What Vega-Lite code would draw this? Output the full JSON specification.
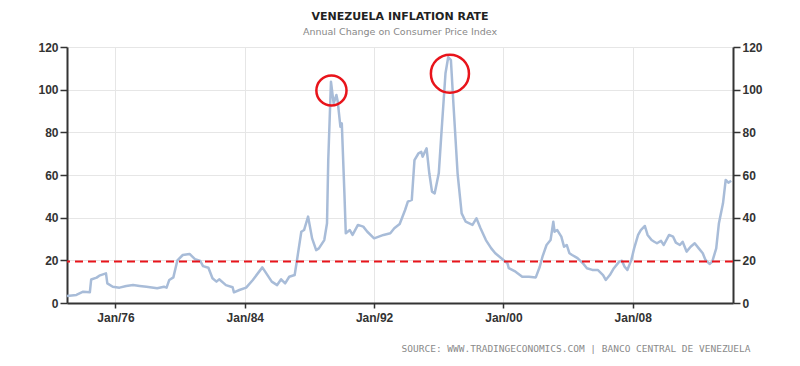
{
  "$schema": "https://vega.github.io/schema/vega-lite/v6.json",
  "width": 666,
  "height": 256,
  "autosize": {"type": "none"},
  "padding": {"left": 67, "top": 47, "right": 67, "bottom": 63},
  "background": "white",
  "title": {
    "text": "VENEZUELA INFLATION RATE",
    "subtitle": "Annual Change on Consumer Price Index",
    "anchor": "middle",
    "font": "DejaVu Sans",
    "fontSize": 11,
    "fontWeight": "bold",
    "color": "#222222",
    "subtitleFont": "DejaVu Sans",
    "subtitleFontSize": 9.5,
    "subtitleColor": "#888888",
    "subtitlePadding": 5,
    "offset": 5
  },
  "config": {
    "view": {"stroke": null},
    "axis": {
      "labelFont": "Liberation Sans",
      "labelFontSize": 12,
      "labelFontWeight": "bold",
      "labelColor": "#333333",
      "domainColor": "#333333",
      "domainWidth": 2,
      "tickColor": "#333333",
      "tickWidth": 1.5,
      "gridColor": "#e6e6e6",
      "gridWidth": 1
    }
  },
  "datasets": {
    "cpi": [
      {"date": "1973-01-01", "rate": 3.3},
      {"date": "1973-08-01", "rate": 3.8},
      {"date": "1974-01-01", "rate": 5.3},
      {"date": "1974-06-01", "rate": 5.0},
      {"date": "1974-07-01", "rate": 11.0},
      {"date": "1974-11-01", "rate": 11.9},
      {"date": "1975-01-01", "rate": 12.8},
      {"date": "1975-06-01", "rate": 13.9},
      {"date": "1975-07-01", "rate": 9.2},
      {"date": "1975-11-01", "rate": 7.6},
      {"date": "1976-04-01", "rate": 7.2},
      {"date": "1976-09-01", "rate": 8.0},
      {"date": "1977-02-01", "rate": 8.4},
      {"date": "1977-07-01", "rate": 8.0},
      {"date": "1977-12-01", "rate": 7.6},
      {"date": "1978-08-01", "rate": 6.9},
      {"date": "1979-01-01", "rate": 7.6},
      {"date": "1979-03-01", "rate": 7.2},
      {"date": "1979-05-01", "rate": 10.8},
      {"date": "1979-08-01", "rate": 12.0},
      {"date": "1979-11-01", "rate": 20.0},
      {"date": "1980-03-01", "rate": 22.5},
      {"date": "1980-08-01", "rate": 23.0},
      {"date": "1980-12-01", "rate": 20.6},
      {"date": "1981-04-01", "rate": 19.7},
      {"date": "1981-06-01", "rate": 17.3},
      {"date": "1981-10-01", "rate": 16.5},
      {"date": "1982-01-01", "rate": 11.6},
      {"date": "1982-04-01", "rate": 10.0},
      {"date": "1982-06-01", "rate": 11.1},
      {"date": "1982-11-01", "rate": 8.4},
      {"date": "1983-04-01", "rate": 7.4},
      {"date": "1983-05-01", "rate": 5.0},
      {"date": "1983-09-01", "rate": 6.1},
      {"date": "1984-02-01", "rate": 7.2},
      {"date": "1984-07-01", "rate": 10.8},
      {"date": "1985-02-01", "rate": 16.7},
      {"date": "1985-05-01", "rate": 13.9},
      {"date": "1985-09-01", "rate": 10.0},
      {"date": "1986-01-01", "rate": 8.4},
      {"date": "1986-04-01", "rate": 11.1},
      {"date": "1986-07-01", "rate": 9.2},
      {"date": "1986-10-01", "rate": 12.3},
      {"date": "1987-02-01", "rate": 13.1},
      {"date": "1987-04-01", "rate": 21.0},
      {"date": "1987-07-01", "rate": 33.4},
      {"date": "1987-09-01", "rate": 34.2},
      {"date": "1987-12-01", "rate": 40.5},
      {"date": "1988-03-01", "rate": 30.3},
      {"date": "1988-06-01", "rate": 24.8},
      {"date": "1988-08-01", "rate": 25.6},
      {"date": "1988-12-01", "rate": 29.5},
      {"date": "1989-02-01", "rate": 37.4},
      {"date": "1989-03-01", "rate": 67.0},
      {"date": "1989-05-01", "rate": 103.7},
      {"date": "1989-07-01", "rate": 93.6},
      {"date": "1989-09-01", "rate": 97.5},
      {"date": "1989-10-01", "rate": 94.4},
      {"date": "1989-12-01", "rate": 82.6},
      {"date": "1990-01-01", "rate": 84.2},
      {"date": "1990-03-01", "rate": 51.4},
      {"date": "1990-04-01", "rate": 32.7},
      {"date": "1990-07-01", "rate": 34.2},
      {"date": "1990-09-01", "rate": 31.9},
      {"date": "1991-01-01", "rate": 36.6},
      {"date": "1991-05-01", "rate": 35.8},
      {"date": "1991-08-01", "rate": 33.4},
      {"date": "1992-01-01", "rate": 30.3},
      {"date": "1992-08-01", "rate": 31.9},
      {"date": "1993-01-01", "rate": 32.7},
      {"date": "1993-04-01", "rate": 35.0},
      {"date": "1993-08-01", "rate": 37.0},
      {"date": "1993-12-01", "rate": 43.6},
      {"date": "1994-02-01", "rate": 47.5},
      {"date": "1994-05-01", "rate": 48.3},
      {"date": "1994-07-01", "rate": 67.0},
      {"date": "1994-10-01", "rate": 70.2},
      {"date": "1994-12-01", "rate": 70.9},
      {"date": "1995-01-01", "rate": 68.6},
      {"date": "1995-04-01", "rate": 72.5},
      {"date": "1995-06-01", "rate": 60.8},
      {"date": "1995-08-01", "rate": 52.2},
      {"date": "1995-10-01", "rate": 51.4},
      {"date": "1996-01-01", "rate": 60.8},
      {"date": "1996-03-01", "rate": 79.6},
      {"date": "1996-06-01", "rate": 107.7},
      {"date": "1996-08-01", "rate": 115.2},
      {"date": "1996-10-01", "rate": 113.9},
      {"date": "1996-12-01", "rate": 92.0},
      {"date": "1997-03-01", "rate": 60.8},
      {"date": "1997-06-01", "rate": 42.0},
      {"date": "1997-09-01", "rate": 38.1},
      {"date": "1998-02-01", "rate": 36.6},
      {"date": "1998-05-01", "rate": 39.7},
      {"date": "1998-08-01", "rate": 35.0},
      {"date": "1998-12-01", "rate": 29.5},
      {"date": "1999-04-01", "rate": 25.6},
      {"date": "1999-07-01", "rate": 23.3},
      {"date": "2000-01-01", "rate": 20.2},
      {"date": "2000-04-01", "rate": 18.6},
      {"date": "2000-05-01", "rate": 16.3},
      {"date": "2000-10-01", "rate": 14.7},
      {"date": "2001-03-01", "rate": 12.3},
      {"date": "2001-08-01", "rate": 12.3},
      {"date": "2002-01-01", "rate": 12.0},
      {"date": "2002-04-01", "rate": 17.0},
      {"date": "2002-06-01", "rate": 21.7},
      {"date": "2002-09-01", "rate": 27.2},
      {"date": "2002-12-01", "rate": 29.5},
      {"date": "2003-02-01", "rate": 38.1},
      {"date": "2003-03-01", "rate": 33.4},
      {"date": "2003-05-01", "rate": 34.2},
      {"date": "2003-08-01", "rate": 31.1},
      {"date": "2003-10-01", "rate": 26.4},
      {"date": "2003-12-01", "rate": 27.2},
      {"date": "2004-02-01", "rate": 23.3},
      {"date": "2004-04-01", "rate": 22.5},
      {"date": "2004-08-01", "rate": 21.0},
      {"date": "2004-12-01", "rate": 18.6},
      {"date": "2005-03-01", "rate": 16.3},
      {"date": "2005-07-01", "rate": 15.5},
      {"date": "2005-11-01", "rate": 15.5},
      {"date": "2006-03-01", "rate": 13.1},
      {"date": "2006-05-01", "rate": 10.8},
      {"date": "2006-08-01", "rate": 13.1},
      {"date": "2006-11-01", "rate": 16.3},
      {"date": "2007-03-01", "rate": 19.4},
      {"date": "2007-05-01", "rate": 19.8},
      {"date": "2007-07-01", "rate": 17.0},
      {"date": "2007-09-01", "rate": 15.5},
      {"date": "2007-12-01", "rate": 20.2},
      {"date": "2008-02-01", "rate": 25.6},
      {"date": "2008-05-01", "rate": 31.9},
      {"date": "2008-07-01", "rate": 34.2},
      {"date": "2008-10-01", "rate": 36.1},
      {"date": "2008-12-01", "rate": 31.9},
      {"date": "2009-03-01", "rate": 29.5},
      {"date": "2009-05-01", "rate": 28.7},
      {"date": "2009-07-01", "rate": 28.0},
      {"date": "2009-10-01", "rate": 29.1},
      {"date": "2009-12-01", "rate": 27.2},
      {"date": "2010-04-01", "rate": 31.9},
      {"date": "2010-07-01", "rate": 31.1},
      {"date": "2010-09-01", "rate": 28.3},
      {"date": "2010-12-01", "rate": 27.2},
      {"date": "2011-02-01", "rate": 28.7},
      {"date": "2011-05-01", "rate": 24.1},
      {"date": "2011-08-01", "rate": 26.4},
      {"date": "2011-11-01", "rate": 28.0},
      {"date": "2012-02-01", "rate": 25.6},
      {"date": "2012-05-01", "rate": 23.3},
      {"date": "2012-07-01", "rate": 20.2},
      {"date": "2012-10-01", "rate": 18.3},
      {"date": "2012-12-01", "rate": 19.4},
      {"date": "2013-03-01", "rate": 25.6},
      {"date": "2013-05-01", "rate": 37.4},
      {"date": "2013-08-01", "rate": 46.7},
      {"date": "2013-10-01", "rate": 57.7},
      {"date": "2013-12-01", "rate": 56.4},
      {"date": "2014-02-01", "rate": 57.3}
    ]
  },
  "layer": [
    {
      "data": {"name": "cpi"},
      "mark": {"type": "line", "color": "#a8bcd8", "strokeWidth": 2.5, "strokeJoin": "round"},
      "encoding": {
        "x": {
          "field": "date",
          "type": "temporal",
          "scale": {"type": "utc", "domain": [{"year": 1973, "month": 1, "date": 1, "utc": true}, {"year": 2014, "month": 3, "date": 15, "utc": true}]},
          "axis": {
            "values": [
              {"year": 1976, "month": 1, "date": 1, "utc": true},
              {"year": 1984, "month": 1, "date": 1, "utc": true},
              {"year": 1992, "month": 1, "date": 1, "utc": true},
              {"year": 2000, "month": 1, "date": 1, "utc": true},
              {"year": 2008, "month": 1, "date": 1, "utc": true}
            ],
            "format": "%b/%y",
            "grid": true,
            "tickSize": 5,
            "labelPadding": 4,
            "title": "SOURCE: WWW.TRADINGECONOMICS.COM | BANCO CENTRAL DE VENEZUELA",
            "titleFont": "DejaVu Sans Mono",
            "titleFontSize": 9.5,
            "titleFontWeight": "normal",
            "titleColor": "#8a8a8a",
            "titleAnchor": "end",
            "titleAlign": "right",
            "titleBaseline": "middle",
            "titleX": 683,
            "titleY": 45
          }
        },
        "y": {
          "field": "rate",
          "type": "quantitative",
          "scale": {"domain": [0, 120], "nice": false},
          "axis": {"orient": "left", "values": [0, 20, 40, 60, 80, 100, 120], "grid": true, "tickSize": 7, "labelPadding": 2, "title": null}
        }
      }
    },
    {
      "data": {"values": [{"threshold": 19.5}]},
      "mark": {"type": "rule", "color": "#e8141b", "strokeWidth": 2, "strokeDash": [8, 5]},
      "encoding": {
        "y": {
          "field": "threshold",
          "type": "quantitative",
          "scale": {"domain": [0, 120], "nice": false},
          "axis": {"orient": "right", "values": [0, 20, 40, 60, 80, 100, 120], "grid": false, "tickSize": 7, "labelPadding": 2, "title": null}
        }
      }
    },
    {
      "data": {"values": [{"date": "1989-05-12", "rate": 99.6}]},
      "mark": {"type": "point", "shape": "circle", "filled": false, "stroke": "#e8141b", "strokeWidth": 2.5, "opacity": 1, "size": 910},
      "encoding": {
        "x": {"field": "date", "type": "temporal"},
        "y": {"field": "rate", "type": "quantitative", "scale": {"domain": [0, 120], "nice": false}, "axis": null}
      }
    },
    {
      "data": {"values": [{"date": "1996-09-09", "rate": 107.5}]},
      "mark": {"type": "point", "shape": "circle", "filled": false, "stroke": "#e8141b", "strokeWidth": 2.5, "opacity": 1, "size": 1450},
      "encoding": {
        "x": {"field": "date", "type": "temporal"},
        "y": {"field": "rate", "type": "quantitative", "scale": {"domain": [0, 120], "nice": false}, "axis": null}
      }
    }
  ],
  "resolve": {"scale": {"y": "independent"}}
}
